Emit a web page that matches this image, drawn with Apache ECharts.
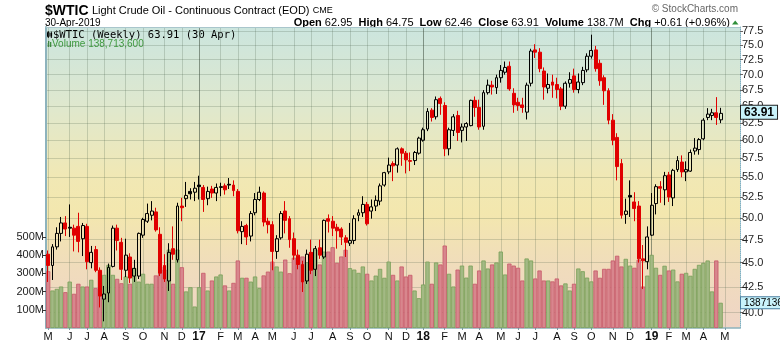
<!DOCTYPE html>
<html><head><meta charset="utf-8">
<script src="https://cdn.jsdelivr.net/npm/echarts@6/dist/echarts.min.js"></script>
<style>html,body{margin:0;padding:0;background:#fff}#c{width:780px;height:345px}</style>
</head><body><div id="c"></div>
<script>
// ---- data (weekly, first week starts 2016-05-02) ----
const firstWeek = '2016-05-02';
const totalSlots = 161; // 157 bars + 4 empty future slots
const openP = [45.9,44.7,46.7,48.2,49.4,48.9,48.8,49.0,47.6,49.0,45.0,46.4,44.2,41.3,41.9,44.6,48.8,47.2,44.2,45.6,43.6,43.6,48.0,49.6,50.3,50.7,48.1,44.7,43.1,46.5,45.3,51.4,52.3,53.2,53.1,54.0,53.7,52.3,53.5,53.0,53.7,53.9,54.1,54.0,53.2,48.4,49.1,47.9,50.6,52.2,53.0,49.6,49.2,46.2,47.7,50.8,49.9,47.6,45.8,44.8,43.1,46.1,44.3,46.6,45.6,49.9,49.6,48.9,48.7,47.7,47.1,47.4,50.3,50.6,51.6,50.8,51.4,52.0,54.0,55.7,56.8,56.6,58.8,58.2,57.2,57.2,58.2,60.0,61.6,64.4,63.4,66.2,65.1,58.8,61.4,63.6,61.4,61.9,62.1,65.9,64.8,62.0,67.1,68.3,67.9,69.5,70.4,71.4,67.0,65.6,65.2,64.1,68.6,74.2,73.8,70.6,67.8,68.8,68.4,67.7,65.0,68.6,69.8,67.6,68.7,70.8,73.1,74.2,71.9,69.5,67.4,62.9,60.4,56.8,50.4,52.7,51.9,51.4,45.4,45.1,48.0,51.7,53.8,53.4,55.3,52.4,56.0,57.0,55.7,55.8,58.5,58.7,60.2,63.3,63.6,64.0,62.95];
const highP = [46.3,47.0,48.9,50.1,50.2,51.6,49.2,50.6,49.4,49.3,46.8,46.8,44.5,42.6,44.9,49.1,49.2,47.7,47.6,46.0,45.3,48.3,50.0,51.7,52.0,51.2,48.9,45.9,47.1,49.0,51.8,52.4,54.4,53.6,54.4,55.2,54.0,53.8,53.9,54.2,54.3,54.2,54.9,54.6,53.5,49.6,49.3,50.8,53.0,53.8,53.2,50.0,49.6,48.0,50.8,52.0,50.2,48.3,46.4,45.2,46.4,47.5,46.8,47.5,49.8,50.4,50.2,49.3,48.9,48.0,49.4,50.3,51.0,52.6,51.9,52.2,52.7,54.2,55.7,57.6,57.1,59.0,59.0,58.5,58.3,58.5,60.5,61.8,64.7,64.7,66.5,66.5,65.6,61.8,63.8,64.3,62.4,62.6,66.0,66.5,66.0,67.5,69.2,69.0,70.0,71.6,72.2,72.2,67.8,66.3,66.3,68.7,74.4,75.2,74.5,71.2,70.2,70.0,69.5,68.0,68.9,70.4,71.0,70.2,71.3,73.6,76.9,74.9,72.5,69.9,67.8,63.8,61.0,57.4,52.3,54.6,53.1,52.0,46.9,49.0,53.0,54.1,54.5,55.7,55.7,56.1,57.8,57.9,57.1,58.7,60.3,60.3,63.2,64.7,64.6,66.4,64.75];
const lowP = [43.0,43.2,46.4,47.3,47.9,47.8,46.2,46.1,45.7,44.3,44.4,44.0,40.5,39.2,41.0,44.5,46.3,43.2,43.5,42.9,43.0,43.3,47.7,49.4,49.7,48.4,43.6,43.0,42.1,45.3,45.0,49.6,51.3,52.2,52.0,52.2,50.7,51.5,52.4,52.0,52.6,52.8,53.5,52.6,48.2,47.0,46.9,47.3,50.3,52.0,49.0,48.2,44.2,45.4,47.5,48.2,46.6,45.3,44.3,42.0,42.8,43.8,43.6,45.4,45.4,48.3,47.9,46.5,46.9,45.6,46.8,47.0,49.6,50.1,49.1,49.9,50.8,51.5,53.8,55.4,54.5,55.6,56.5,55.5,55.8,56.6,58.0,59.8,61.3,62.7,63.0,63.7,57.8,57.9,60.6,59.9,59.7,59.9,62.0,63.4,61.5,61.5,66.8,66.8,66.9,68.7,70.0,67.4,64.0,64.3,64.0,63.0,68.1,72.8,70.4,66.0,67.0,66.3,66.2,64.4,64.6,67.9,67.1,67.0,68.3,70.4,72.7,70.5,68.2,65.2,62.3,59.3,54.6,49.9,49.3,50.1,49.6,45.0,42.3,44.3,47.9,50.4,51.8,51.5,51.9,51.4,55.7,55.0,54.5,55.7,58.0,58.0,60.0,62.9,62.9,62.2,62.46];
const closeP = [44.7,46.7,48.2,49.4,48.7,48.8,48.0,47.3,49.1,45.1,46.1,44.2,41.6,41.8,44.5,48.8,47.4,44.3,45.8,43.4,44.4,48.2,49.8,50.5,50.8,48.6,43.9,43.3,46.1,45.9,51.4,51.2,52.7,52.9,53.6,53.8,52.2,53.2,53.0,53.7,53.8,53.4,54.0,53.3,48.5,49.0,47.8,50.5,52.2,53.1,49.5,49.2,46.2,47.6,50.5,49.7,47.5,45.8,44.8,43.0,45.9,44.2,46.5,45.8,49.7,49.6,48.8,48.5,47.8,47.2,47.4,49.9,50.6,51.6,49.3,51.3,52.1,53.9,55.6,56.6,56.5,58.8,58.2,57.3,57.1,58.3,60.3,61.5,64.2,63.3,66.0,65.4,58.8,61.5,63.4,61.1,61.9,62.4,65.9,64.8,61.9,67.1,68.3,68.0,69.5,70.7,71.2,67.7,65.2,65.1,64.8,68.3,74.0,73.8,71.0,68.0,68.4,68.3,67.6,65.0,68.6,69.2,67.6,68.8,70.7,73.1,74.1,71.0,69.0,67.4,62.9,60.0,56.4,50.3,50.8,52.5,51.1,45.4,45.2,47.8,51.5,53.8,53.6,55.2,52.5,55.9,57.2,55.7,56.0,58.3,58.9,60.1,62.9,63.8,64.0,63.3,63.91];
const volumeM = [312,206,215,228,197,255,188,243,228,228,265,219,312,292,347,292,270,246,283,243,329,255,298,243,243,289,338,321,431,243,431,334,201,224,118,224,303,206,261,283,294,234,206,248,371,276,276,255,283,219,289,310,365,338,310,376,301,386,393,393,362,417,431,349,420,420,444,358,393,430,329,321,303,338,298,261,288,325,276,365,292,261,338,283,292,206,164,239,365,243,360,349,453,298,228,321,343,277,343,243,316,371,327,349,360,420,294,354,343,331,261,382,371,272,316,261,261,256,272,234,245,206,243,327,312,277,256,316,276,325,325,371,397,338,380,343,331,375,228,288,402,331,292,342,316,321,256,298,303,287,325,347,358,371,201,371,138.7];
const priceTicks = [40.0,42.5,45.0,47.5,50.0,52.5,55.0,57.5,60.0,62.5,65.0,67.5,70.0,72.5,75.0,77.5];
const volumeTicks = [100,200,300,400,500];
const lastClose = 63.91;
const lastVolume = 138713600;
const priceMin = 38.59, priceMax = 78.3;
const volumeMax = 1654;

// ---- build ----
const dates = [];
(function(){ let t = Date.parse(firstWeek+'T00:00:00Z'); for (let i=0;i<totalSlots;i++){ dates.push(new Date(t).toISOString().slice(0,10)); t += 7*864e5; } })();
const monthOf = d => +d.slice(5,7);
const isMonthStart = dates.map((d,i)=> i===0 || monthOf(d)!==monthOf(dates[i-1]));
const isYearStart = dates.map((d,i)=> isMonthStart[i] && monthOf(d)===1);
const letters = 'JFMAMJJASOND';

const RED='#e00000', BLACK='#000000';
const candleData = openP.map((o,i)=>{
  const c = closeP[i];
  const col = (i===0 || c < closeP[i-1]) ? RED : BLACK;
  const fill = c < o ? col : 'rgba(255,255,255,0)';
  return {value:[Math.log(o),Math.log(c),Math.log(lowP[i]),Math.log(highP[i])],
    itemStyle:{color:fill,color0:fill,borderColor:col,borderColor0:col,borderColorDoji:col}};
});
const volData = volumeM.map((v,i)=>{
  const up = !(i===0 || closeP[i] < closeP[i-1]);
  return {value:v, itemStyle: up ? {color:'#a3b984',borderColor:'#789f58'} : {color:'#d8868d',borderColor:'#c65868'}};
});

const chart = echarts.init(document.getElementById('c'), null, {renderer:'canvas'});
const FONT = 'Liberation Sans, Arial, sans-serif';
const gridLineColor = 'rgba(70,90,70,0.22)';
const hiddenLine = {color:'rgba(0,0,0,0)',width:0};
chart.setOption({
  animation:false,
  textStyle:{fontFamily:FONT},
  grid:{left:46,right:40,top:27,bottom:17,show:true,borderWidth:0,
    backgroundColor:new echarts.graphic.LinearGradient(0,0,0,1,[
      {offset:0,color:'#cbe5de'},{offset:0.25,color:'#dee8cf'},{offset:0.5,color:'#f1e8b4'},
      {offset:0.62,color:'#f3e7ae'},{offset:0.8,color:'#f0dcbc'},{offset:1,color:'#efd5c6'}])},
  xAxis:[{
    type:'category',data:dates,boundaryGap:true,
    axisLine:{lineStyle:{color:'#8db3bd',width:1.5}},
    axisTick:{show:true,alignWithLabel:true,interval:(i)=>isMonthStart[i],length:2,lineStyle:{color:'#7a9aa3'}},
    axisLabel:{interval:(i)=>isMonthStart[i],margin:3,fontSize:11,color:'#111',fontFamily:FONT,
      formatter:(v)=>{const m=monthOf(v); return m===1 ? '{y|'+v.slice(2,4)+'}' : letters[m-1];},
      rich:{y:{fontWeight:'bold',fontSize:12,color:'#111',fontFamily:FONT}}},
    splitLine:{show:true,alignWithLabel:true,interval:(i)=>isMonthStart[i],lineStyle:{color:gridLineColor,width:1}}
  },{
    type:'category',data:dates,boundaryGap:true,position:'top',
    axisLine:{show:true,lineStyle:{color:'#a9c6cc',width:1}},axisTick:{show:false},axisLabel:{show:false},
    splitLine:{show:true,alignWithLabel:true,interval:(i)=>isYearStart[i],lineStyle:{color:'rgba(60,75,60,0.42)',width:1}}
  }],
  yAxis:[{
    type:'value',position:'right',min:Math.log(priceMin),max:Math.log(priceMax),
    axisLine:{show:true,lineStyle:{color:'#7fb0c0',type:'dotted',width:1}},
    axisTick:{show:true,customValues:priceTicks.map(Math.log),length:3,lineStyle:{color:'#666'}},
    axisLabel:{customValues:priceTicks.map(Math.log),formatter:(v)=>Math.exp(v).toFixed(1),fontSize:11,color:'#222',margin:2,fontFamily:FONT},
    splitLine:{show:true,lineStyle:{color:gridLineColor,width:1}}
  },{
    type:'value',position:'left',min:0,max:volumeMax,
    axisLine:{show:true,lineStyle:{color:'#8db3bd',width:2}},
    axisTick:{show:true,customValues:volumeTicks,length:3,lineStyle:{color:'#333'}},
    axisLabel:{customValues:volumeTicks,formatter:(v)=>v+'M',fontSize:11,color:'#222',margin:2,fontFamily:FONT},
    splitLine:{show:false}
  }],
  series:[{
    type:'bar',xAxisIndex:0,yAxisIndex:1,data:volData,barWidth:4.3,silent:true,
    itemStyle:{borderWidth:0.8},
    markLine:{silent:true,symbol:'none',lineStyle:hiddenLine,
      label:{show:true,position:'end',distance:1,formatter:String(lastVolume),fontSize:10,color:'#000',
        backgroundColor:'#c9f3fb',borderColor:'#4a7fa0',borderWidth:1,padding:[1,2,0,3],fontFamily:FONT},
      data:[{yAxis:lastVolume/1e6}]}
  },{
    type:'candlestick',xAxisIndex:0,yAxisIndex:0,data:candleData,barWidth:3.4,silent:true,
    itemStyle:{borderWidth:1},
    markLine:{silent:true,symbol:'none',lineStyle:hiddenLine,
      label:{show:true,position:'end',distance:1,formatter:lastClose.toFixed(2),fontSize:12,fontWeight:'bold',color:'#000',
        backgroundColor:'#c9f3fb',borderColor:'#222',borderWidth:1,padding:[1,3,0,3],fontFamily:FONT},
      data:[{yAxis:Math.log(lastClose)}]}
  }],
  graphic:[
    {type:'text',x:45,y:11,style:{text:'{t|$WTIC} {n|Light Crude Oil - Continuous Contract (EOD)} {s|CME}',textVerticalAlign:'middle',
      rich:{t:{fontSize:14,fontWeight:'bold',fontFamily:FONT,fill:'#000'},n:{fontSize:11,fontFamily:FONT,fill:'#000'},s:{fontSize:9,fontFamily:FONT,fill:'#000'}}}},
    {type:'text',x:45,y:23,style:{text:'30-Apr-2019',font:'10px '+FONT,fill:'#000',textVerticalAlign:'middle'}},
    {type:'text',x:730,y:23,style:{text:'{b|Open} 62.95  {b|High} 64.75  {b|Low} 62.46  {b|Close} 63.91  {b|Volume} 138.7M  {b|Chg} +0.61 (+0.96%)',
      textAlign:'right',textVerticalAlign:'middle',font:'11px '+FONT,fill:'#000',rich:{b:{fontWeight:'bold',fontSize:11,fontFamily:FONT,fill:'#000'}}}},
    {type:'polygon',shape:{points:[[732,24.5],[738.5,24.5],[735.2,20.5]]},style:{fill:'#2f8f3a'}},
    {type:'text',x:738,y:9,style:{text:'\u00a9 StockCharts.com',textAlign:'right',textVerticalAlign:'middle',font:'10px '+FONT,fill:'#666'}},
    {type:'group',children:[
      {type:'rect',shape:{x:47.5,y:32.5,width:1.6,height:4},style:{fill:'none',stroke:'#000',lineWidth:1}},
      {type:'line',shape:{x1:48.3,y1:31,x2:48.3,y2:38},style:{stroke:'#000',lineWidth:1}},
      {type:'rect',shape:{x:50.5,y:33,width:1.6,height:3.5},style:{fill:'#000'}},
      {type:'line',shape:{x1:51.3,y1:31.5,x2:51.3,y2:38},style:{stroke:'#000',lineWidth:1}}
    ]},
    {type:'text',x:53,y:35,style:{text:'$WTIC (Weekly) 63.91 (30 Apr)',font:'10.5px DejaVu Sans Mono, monospace',fill:'#000',textVerticalAlign:'middle'}},
    {type:'group',children:[
      {type:'rect',shape:{x:46,y:43,width:1.3,height:4},style:{fill:'#3f8f3f'}},
      {type:'rect',shape:{x:48,y:41,width:1.3,height:6},style:{fill:'#3f8f3f'}},
      {type:'rect',shape:{x:50,y:42,width:1.3,height:5},style:{fill:'#3f8f3f'}}
    ]},
    {type:'text',x:52,y:44,style:{text:'Volume 138,713,600',font:'10px '+FONT,fill:'#3f9a3f',textVerticalAlign:'middle'}}
  ]
});
</script></body></html>
